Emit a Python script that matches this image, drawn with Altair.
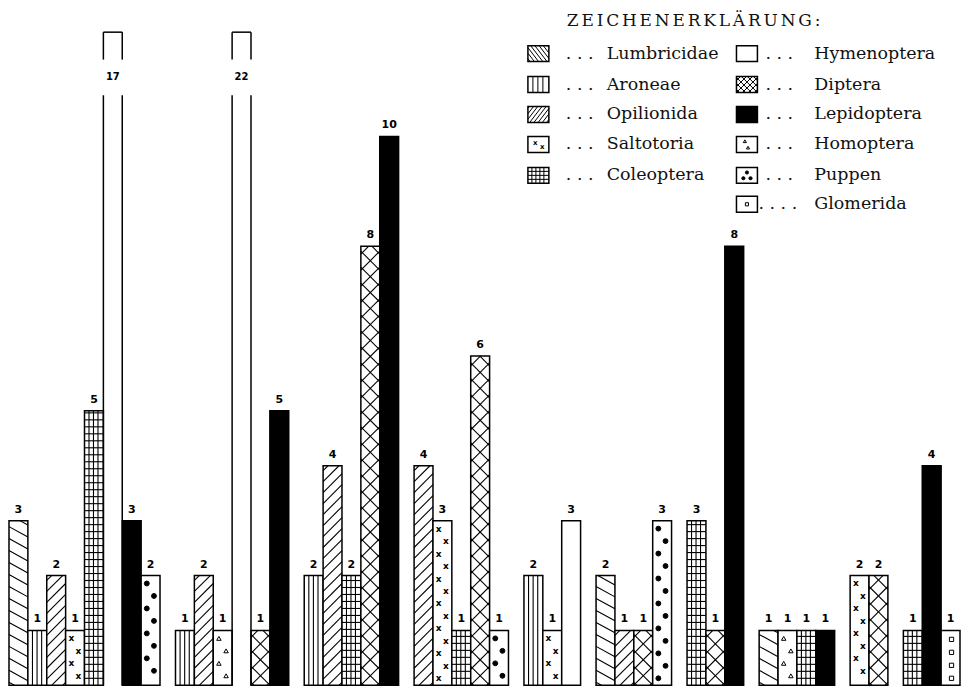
import altair as alt
import pandas as pd

# ---------------- data ----------------
TAXA = ["Lumbricidae", "Aroneae", "Opilionida", "Saltotoria", "Coleoptera",
        "Hymenoptera", "Diptera", "Lepidoptera", "Homoptera", "Puppen", "Glomerida"]

GROUP_TAXA = [
    ["Lumbricidae", "Aroneae", "Opilionida", "Saltotoria", "Coleoptera", "Hymenoptera", "Lepidoptera", "Puppen"],
    ["Aroneae", "Opilionida", "Homoptera", "Hymenoptera", "Diptera", "Lepidoptera"],
    ["Aroneae", "Opilionida", "Coleoptera", "Diptera", "Lepidoptera"],
    ["Opilionida", "Saltotoria", "Coleoptera", "Diptera", "Puppen"],
    ["Aroneae", "Saltotoria", "Hymenoptera"],
    ["Lumbricidae", "Opilionida", "Diptera", "Puppen"],
    ["Coleoptera", "Diptera", "Lepidoptera"],
    ["Lumbricidae", "Homoptera", "Coleoptera", "Lepidoptera"],
    ["Saltotoria", "Diptera"],
    ["Coleoptera", "Lepidoptera", "Glomerida"],
]
GROUP_COUNTS = [
    [3, 1, 2, 1, 5, 17, 3, 2],
    [1, 2, 1, 22, 1, 5],
    [2, 4, 2, 8, 10],
    [4, 3, 1, 6, 1],
    [2, 1, 3],
    [2, 1, 1, 3],
    [3, 1, 8],
    [1, 1, 1, 1],
    [2, 2],
    [1, 4, 1],
]

LEGEND_TITLE = "ZEICHENERKLÄRUNG:"
LEGEND_LEFT = TAXA[:5]
LEGEND_RIGHT = TAXA[5:]

# ---------------- layout / style ----------------
W, H = 953, 678
PX_PER_UNIT = 55.0
YMAX = H / PX_PER_UNIT
GROUP_GAP = 0.82
N_BARS = sum(len(g) for g in GROUP_TAXA)
XMAX = N_BARS + GROUP_GAP * (len(GROUP_TAXA) - 1)
SX = W / XMAX
BREAK_AT = 12
BREAK_TOP = 11.9
GAP_LO, GAP_HI = 10.75, 11.4

FILL = {"Lepidoptera": "black"}
PATTERNS = {
    "Lumbricidae": [("diag", -0.55, 12)],
    "Opilionida": [("diag", 1.0, 11)],
    "Diptera": [("diag", 1.0, 16), ("diag", -1.0, 16)],
    "Coleoptera": [("vert", 4.5), ("horiz", 7)],
    "Aroneae": [("vert", 4.6)],
}
LEGEND_PATTERNS = {
    "Lumbricidae": [("diag", -1.3, 5.5)],
    "Opilionida": [("diag", 1.3, 5.5)],
    "Diptera": [("diag", 1.0, 6), ("diag", -1.0, 6)],
    "Coleoptera": [("vert", 4), ("horiz", 4)],
    "Aroneae": [("vert", 5)],
}


def dx(px):
    return px / SX


def dy(py):
    return py / PX_PER_UNIT


def diag(X0, Y0, w, h, s, p, phase=3.0):
    out = []
    if s > 0:
        c, cmax = -s * w + phase, h
    else:
        c, cmax = phase, h - s * w
    while c < cmax:
        xa, xb = (0 - c) / s, (h - c) / s
        lo, hi = max(0.0, min(xa, xb)), min(w, max(xa, xb))
        if hi - lo > 0.3:
            out.append((X0 + lo, Y0 + s * lo + c, X0 + hi, Y0 + s * hi + c))
        c += p
    return out


def verticals(X0, Y0, w, h, p):
    out, x = [], p
    while x < w - 1.0:
        out.append((X0 + x, Y0, X0 + x, Y0 + h))
        x += p
    return out


def horizontals(X0, Y0, w, h, p):
    out, y = [], p
    while y < h - 1.0:
        out.append((X0, Y0 + y, X0 + w, Y0 + y))
        y += p
    return out


segs, rects, pts, xmarks, labels, blabels, ltexts = [], [], [], [], [], [], []


def add_pattern(spec, X0, Y0, w, h, sw=1.1):
    for item in spec:
        if item[0] == "diag":
            lines = diag(X0, Y0, w, h, item[1], item[2])
        elif item[0] == "vert":
            lines = verticals(X0, Y0, w, h, item[1])
        else:
            lines = horizontals(X0, Y0, w, h, item[1])
        for (a, b, c, d) in lines:
            segs.append(dict(x=dx(a), y=dy(b), x2=dx(c), y2=dy(d), sw=sw))


def add_markers(t, X0, Y0, w, h):
    if t == "Glomerida":
        y = h - 9
        while y > 4:
            pts.append(dict(x=dx(X0 + 0.55 * w), y=dy(Y0 + y), shape="square", fill="white", size=18))
            y -= 13
        return
    y, k = h - 8, 0
    while y > 4:
        xx = X0 + (0.3 if k % 2 == 0 else 0.68) * w
        if t == "Saltotoria":
            xmarks.append(dict(x=dx(xx), y=dy(Y0 + y), t="x", fs=9))
        elif t == "Homoptera":
            pts.append(dict(x=dx(xx), y=dy(Y0 + y), shape="triangle-up", fill="white", size=20))
        elif t == "Puppen":
            pts.append(dict(x=dx(xx), y=dy(Y0 + y), shape="circle", fill="black", size=24))
        y -= 12.5
        k += 1


# bars
slot = 0.0
for gi, (taxa, counts) in enumerate(zip(GROUP_TAXA, GROUP_COUNTS)):
    if gi:
        slot += GROUP_GAP
    for t, v in zip(taxa, counts):
        x0, x1 = slot, slot + 1
        broken = v > BREAK_AT
        top = BREAK_TOP if broken else v
        X0, w, h = x0 * SX, SX, top * PX_PER_UNIT
        if broken:
            for xe in (x0, x1):
                segs.append(dict(x=xe, y=0, x2=xe, y2=GAP_LO, sw=1.5))
                segs.append(dict(x=xe, y=GAP_HI, x2=xe, y2=top, sw=1.5))
            segs.append(dict(x=x0, y=top, x2=x1, y2=top, sw=1.5))
            blabels.append(dict(x=(x0 + x1) / 2, y=(GAP_LO + GAP_HI) / 2, label=str(v)))
        else:
            rects.append(dict(x=x0, x2=x1, y=0, y2=v, fill=FILL.get(t, "white")))
            labels.append(dict(x=(x0 + x1) / 2, y=v, label=str(v)))
        add_pattern(PATTERNS.get(t, []), X0, 0.0, w, h)
        add_markers(t, X0, 0.0, w, h)
        slot += 1

# legend (page pixel layout)
ROW_Y = [53, 84, 114, 144, 175, 204]


def legend_entry(t, row, box_x, dots_x, text_x, dots):
    c = ROW_Y[row]
    bx, bw, bh = box_x - 8, 21, 16
    by = H - (c + 8 - 8)  # bottom of box, up-from-baseline px
    rects.append(dict(x=dx(bx), x2=dx(bx + bw), y=dy(by), y2=dy(by + bh), fill=FILL.get(t, "white")))
    add_pattern(LEGEND_PATTERNS.get(t, []), bx, by, bw, bh, sw=1.0)
    if t == "Saltotoria":
        for fx, fy in [(0.35, 0.62), (0.68, 0.32)]:
            xmarks.append(dict(x=dx(bx + fx * bw), y=dy(by + fy * bh), t="x", fs=7))
    elif t == "Homoptera":
        for fx, fy in [(0.4, 0.7), (0.55, 0.3)]:
            pts.append(dict(x=dx(bx + fx * bw), y=dy(by + fy * bh), shape="triangle-up", fill="white", size=10))
    elif t == "Puppen":
        for fx, fy in [(0.5, 0.68), (0.33, 0.32), (0.67, 0.32)]:
            pts.append(dict(x=dx(bx + fx * bw), y=dy(by + fy * bh), shape="circle", fill="black", size=10))
    elif t == "Glomerida":
        pts.append(dict(x=dx(bx + 0.5 * bw), y=dy(by + 0.5 * bh), shape="square", fill="white", size=10))
    yy = dy(H - (c - 8))
    ltexts.append(dict(x=dx(dots_x - 8), y=yy, text=dots, size=17.5))
    ltexts.append(dict(x=dx(text_x - 8), y=yy, text=t, size=17.5))


for i, t in enumerate(LEGEND_LEFT):
    legend_entry(t, i, 528, 566, 607, ". . .")
for i, t in enumerate(LEGEND_RIGHT):
    if t == "Glomerida":
        legend_entry(t, i, 737, 759, 815, ". . . .")
    else:
        legend_entry(t, i, 737, 766, 815, ". . .")
ltexts.append(dict(x=dx(567 - 8), y=dy(H - (20 - 8)), text="\u2006".join(LEGEND_TITLE), size=17))

# ---------------- chart ----------------
xs = alt.Scale(domain=[0, XMAX], nice=False, zero=False)
ys = alt.Scale(domain=[0, YMAX], nice=False, zero=False)


def XY():
    return dict(x=alt.X("x:Q", scale=xs, axis=None), y=alt.Y("y:Q", scale=ys, axis=None))


rect_layer = alt.Chart(pd.DataFrame(rects)).mark_rect(stroke="black", strokeWidth=1.5).encode(
    x2="x2:Q", y2="y2:Q", fill=alt.Fill("fill:N", scale=None), **XY())
rule_layer = alt.Chart(pd.DataFrame(segs)).mark_rule(color="black").encode(
    x2="x2:Q", y2="y2:Q", strokeWidth=alt.StrokeWidth("sw:Q", scale=None), **XY())
point_layer = alt.Chart(pd.DataFrame(pts)).mark_point(filled=True, stroke="black", strokeWidth=1, opacity=1).encode(
    shape=alt.Shape("shape:N", scale=None), fill=alt.Fill("fill:N", scale=None),
    size=alt.Size("size:Q", scale=None), **XY())
xmark_layer = alt.Chart(pd.DataFrame(xmarks)).mark_text(
    font="DejaVu Sans", fontWeight="bold", color="black", baseline="middle").encode(
    text="t:N", size=alt.Size("fs:Q", scale=None), **XY())
label_layer = alt.Chart(pd.DataFrame(labels)).mark_text(
    font="DejaVu Sans", fontSize=11, fontWeight="bold", color="black", baseline="bottom", dy=-6).encode(
    text="label:N", **XY())
blabel_layer = alt.Chart(pd.DataFrame(blabels)).mark_text(
    font="DejaVu Sans", fontSize=10, fontWeight="bold", color="black", baseline="middle").encode(
    text="label:N", **XY())
legend_layer = alt.Chart(pd.DataFrame(ltexts)).mark_text(
    font="DejaVu Serif", align="left", baseline="middle", color="#111").encode(
    text="text:N", size=alt.Size("size:Q", scale=None), **XY())

chart = alt.layer(rect_layer, rule_layer, point_layer, xmark_layer, label_layer, blabel_layer,
                  legend_layer).properties(width=W, height=H, padding=0).configure_view(strokeWidth=0)

chart.save("out.html", embed_options={"renderer": "svg", "actions": False})
